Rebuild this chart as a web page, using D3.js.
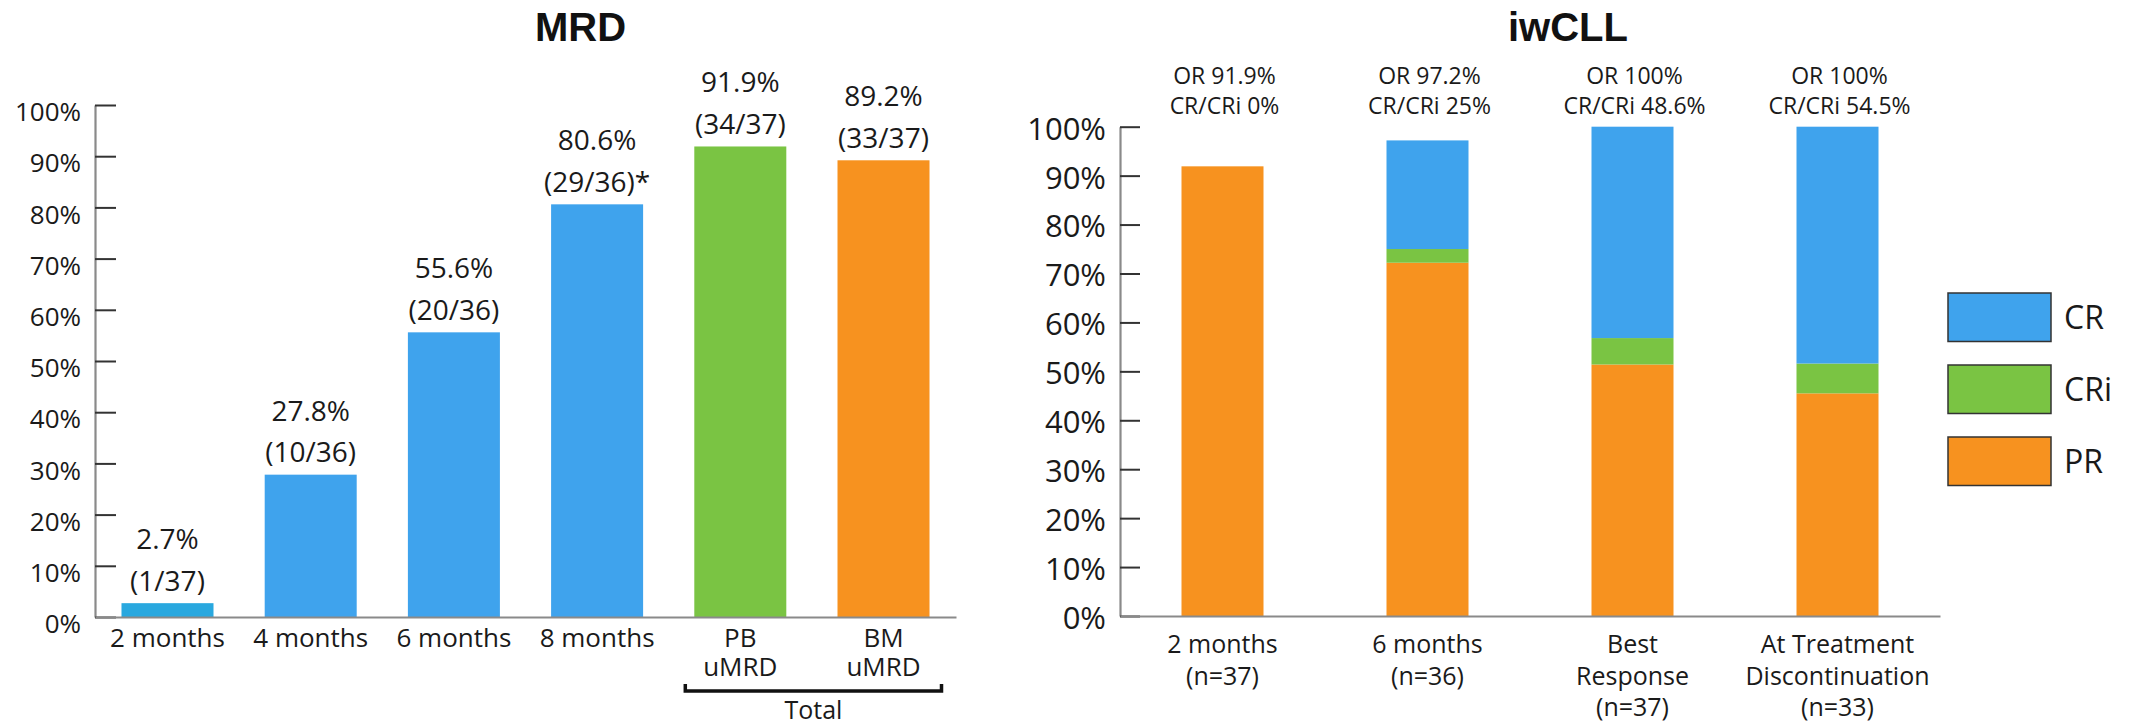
<!DOCTYPE html>
<html>
<head>
<meta charset="utf-8">
<script src="https://cdn.jsdelivr.net/npm/d3@7"></script>
<style>
  html, body { margin: 0; padding: 0; background: #ffffff; }
  svg { display: block; }
  text { font-family: "Open Sans", "DejaVu Sans", sans-serif; fill: #1a1a1a; }
  .title { font-family: "Liberation Sans", Arial, sans-serif; font-weight: bold; fill: #111; }
</style>
</head>
<body>
<svg id="chart" width="2131" height="725"></svg>
<script>
// ---- MRD panel data ----
const mrdCategories = ["2 months", "4 months", "6 months", "8 months", "PB uMRD", "BM uMRD"];
const mrdTickLabels = [["2 months"], ["4 months"], ["6 months"], ["8 months"], ["PB", "uMRD"], ["BM", "uMRD"]];
const mrdValues = [2.7, 27.8, 55.6, 80.6, 91.9, 89.2];
const mrdCounts = ["(1/37)", "(10/36)", "(20/36)", "(29/36)*", "(34/37)", "(33/37)"];
const mrdColors = ["#29a8df", "#3fa3ed", "#3fa3ed", "#3fa3ed", "#7ac443", "#f7921f"];

// ---- iwCLL panel data ----
const iwCategories = ["2 months", "6 months", "Best Response", "At Treatment Discontinuation"];
const iwTickLabels = [["2 months", "(n=37)"], ["6 months", "(n=36)"], ["Best", "Response", "(n=37)"], ["At Treatment", "Discontinuation", "(n=33)"]];
const iwPR = [91.9, 72.2, 51.4, 45.5];
const iwCRi = [0, 2.8, 5.4, 6.1];
const iwCR = [0, 22.2, 43.2, 48.4];
const iwOR = ["OR 91.9%", "OR 97.2%", "OR 100%", "OR 100%"];
const iwCRCRi = ["CR/CRi 0%", "CR/CRi 25%", "CR/CRi 48.6%", "CR/CRi 54.5%"];
const responseKeys = ["PR", "CRi", "CR"];
const responseColors = { CR: "#3fa3ed", CRi: "#7ac443", PR: "#f7921f" };
const legendOrder = ["CR", "CRi", "PR"];

const yTicks = [0, 10, 20, 30, 40, 50, 60, 70, 80, 90, 100];
const pct = d => d + "%";

const svg = d3.select("#chart");
svg.append("rect").attr("width", 2131).attr("height", 725).attr("fill", "#fff");

function styleAxis(g, domainColor, tickColor) {
  g.select(".domain").attr("stroke", domainColor).attr("stroke-width", 2.2);
  g.selectAll(".tick line").attr("stroke", tickColor).attr("stroke-width", 2);
}

// ================= MRD =================
{
  const y = d3.scaleLinear().domain([0, 100]).range([617, 105]);
  const x = d3.scaleBand().domain(mrdCategories).range([95, 956]).paddingInner(0.3575).paddingOuter(0.185);
  const bw = x.bandwidth();

  svg.append("text").attr("class", "title")
    .attr("x", (x.range()[0] + x.range()[1]) / 2 + 55).attr("y", 41)
    .attr("text-anchor", "middle").attr("font-size", 40).text("MRD");

  const gy = svg.append("g").attr("transform", "translate(95,0)")
    .call(d3.axisLeft(y).tickValues(yTicks).tickFormat(pct).tickSize(-21).tickSizeOuter(0).tickPadding(14));
  styleAxis(gy, "#8a8a8a", "#333");
  gy.selectAll("text").attr("font-size", 26).attr("dy", "0.6em").attr("fill", "#1a1a1a")
    .attr("font-family", "'Open Sans', sans-serif");

  svg.append("g").selectAll("rect").data(mrdValues).join("rect")
    .attr("x", (d, i) => x(mrdCategories[i]))
    .attr("y", d => y(d))
    .attr("width", bw)
    .attr("height", d => y(0) - y(d))
    .attr("fill", (d, i) => mrdColors[i]);

  const gx = svg.append("g").attr("transform", `translate(0,${y(0)})`)
    .call(d3.axisBottom(x).tickSize(0).tickSizeOuter(0).tickPadding(0));
  styleAxis(gx, "#8a8a8a", "#333");
  gx.selectAll(".tick text").each(function (d, i) {
    const t = d3.select(this).text(null).attr("dy", null).attr("y", 30)
      .attr("font-size", 26).attr("fill", "#1a1a1a").attr("font-family", "'Open Sans', sans-serif");
    mrdTickLabels[i].forEach((line, j) => {
      t.append("tspan").attr("x", 0).attr("y", 30 + j * 28.5).text(line);
    });
  });

  // value labels above bars
  const lab = svg.append("g").attr("font-size", 28).attr("text-anchor", "middle");
  mrdValues.forEach((v, i) => {
    const cx = x(mrdCategories[i]) + bw / 2;
    lab.append("text").attr("x", cx).attr("y", y(v) - 54).text(v + "%");
    lab.append("text").attr("x", cx).attr("y", y(v) - 12.5).text(mrdCounts[i]);
  });

  // "Total" bracket under the PB / BM bars
  const bx0 = x("PB uMRD") - 9, bx1 = x("BM uMRD") + bw + 12, by = y(0) + 74;
  svg.append("path")
    .attr("d", `M${bx0},${by - 7}V${by}H${bx1}V${by - 7}`)
    .attr("fill", "none").attr("stroke", "#111").attr("stroke-width", 3.5);
  svg.append("text").attr("x", (bx0 + bx1) / 2).attr("y", by + 28)
    .attr("text-anchor", "middle").attr("font-size", 25).text("Total");
}

// ================= iwCLL =================
{
  const y = d3.scaleLinear().domain([0, 100]).range([616, 126.7]);
  const x = d3.scaleBand().domain(iwCategories).range([1120, 1940]).paddingInner(0.6).paddingOuter(0.3);
  const bw = x.bandwidth();

  svg.append("text").attr("class", "title")
    .attr("x", 1568).attr("y", 41)
    .attr("text-anchor", "middle").attr("font-size", 40).text("iwCLL");

  const gy = svg.append("g").attr("transform", "translate(1120,0)")
    .call(d3.axisLeft(y).tickValues(yTicks).tickFormat(pct).tickSize(-20).tickSizeOuter(0).tickPadding(14));
  styleAxis(gy, "#8a8a8a", "#333");
  gy.selectAll("text").attr("font-size", 31).attr("dy", "0.4em").attr("fill", "#1a1a1a")
    .attr("font-family", "'Open Sans', sans-serif");

  const table = iwCategories.map((c, i) => ({ cat: c, PR: iwPR[i], CRi: iwCRi[i], CR: iwCR[i] }));
  const series = d3.stack().keys(responseKeys)(table);

  svg.append("g").selectAll("g").data(series).join("g")
    .attr("fill", s => responseColors[s.key])
    .selectAll("rect").data(s => s).join("rect")
    .attr("x", d => x(d.data.cat))
    .attr("y", d => y(d[1]))
    .attr("width", bw)
    .attr("height", d => y(d[0]) - y(d[1]));

  const gx = svg.append("g").attr("transform", `translate(0,${y(0)})`)
    .call(d3.axisBottom(x).tickSize(0).tickSizeOuter(0).tickPadding(0));
  styleAxis(gx, "#8a8a8a", "#333");
  gx.selectAll(".tick text").each(function (d, i) {
    const t = d3.select(this).text(null).attr("dy", null)
      .attr("font-size", 25).attr("fill", "#1a1a1a").attr("font-family", "'Open Sans', sans-serif");
    iwTickLabels[i].forEach((line, j) => {
      t.append("tspan").attr("x", 0).attr("y", 37 + j * 31.5).text(line);
    });
  });

  // overall / complete response summaries above each column
  const top = svg.append("g").attr("font-size", 23).attr("text-anchor", "middle");
  iwCategories.forEach((c, i) => {
    const cx = x(c) + bw / 2 + 2;
    top.append("text").attr("x", cx).attr("y", 84).text(iwOR[i]);
    top.append("text").attr("x", cx).attr("y", 114).text(iwCRCRi[i]);
  });

  // legend
  const lg = svg.append("g").attr("transform", "translate(1948,293)");
  const item = lg.selectAll("g").data(legendOrder).join("g")
    .attr("transform", (d, i) => `translate(0,${i * 72})`);
  item.append("rect").attr("width", 103).attr("height", 48.5)
    .attr("fill", d => responseColors[d]).attr("stroke", "#333").attr("stroke-width", 1.5);
  item.append("text").attr("x", 116).attr("y", 24.5).attr("dy", "0.35em")
    .attr("font-size", 32).text(d => d);
}
</script>
</body>
</html>
